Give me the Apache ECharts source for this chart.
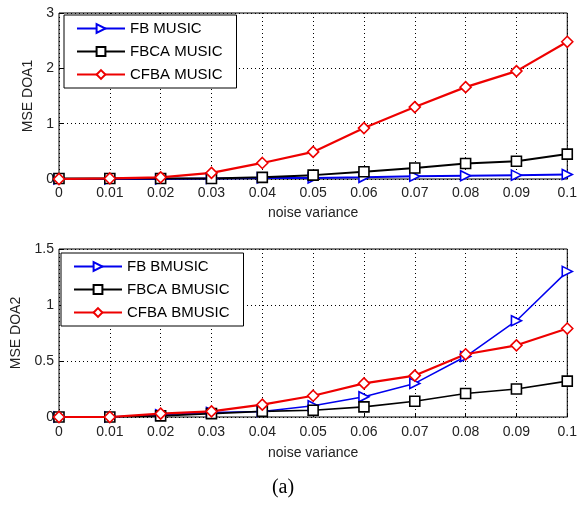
<!DOCTYPE html>
<html><head><meta charset="utf-8">
<script src="https://cdn.jsdelivr.net/npm/echarts@6/dist/echarts.min.js"></script>
<style>html,body{margin:0;padding:0;background:#fff}#c{width:580px;height:506px}</style>
</head><body><div id="c"></div>
<script>
const noiseVariance = [0, 0.01, 0.02, 0.03, 0.04, 0.05, 0.06, 0.07, 0.08, 0.09, 0.1];
const xTicks = ['0','0.01','0.02','0.03','0.04','0.05','0.06','0.07','0.08','0.09','0.1'];
// Top panel (DOA1)
const fbMusic   = [0, 0, 0, 0.01, 0.02, 0.02, 0.03, 0.05, 0.06, 0.07, 0.08];
const fbcaMusic = [0.01, 0.01, 0.01, 0.01, 0.03, 0.07, 0.13, 0.2, 0.28, 0.32, 0.45];
const cfbaMusic = [0, 0.01, 0.03, 0.11, 0.29, 0.49, 0.92, 1.3, 1.66, 1.95, 2.48];
// Bottom panel (DOA2)
const fbBmusic   = [0, 0, 0.02, 0.04, 0.05, 0.1, 0.18, 0.3, 0.54, 0.86, 1.3];
const fbcaBmusic = [0, 0, 0.01, 0.03, 0.05, 0.06, 0.09, 0.14, 0.21, 0.25, 0.32];
const cfbaBmusic = [0, 0, 0.03, 0.05, 0.11, 0.19, 0.3, 0.37, 0.56, 0.64, 0.79];
const y1Ticks = [0, 1, 2, 3];
const y2Ticks = [0, 0.5, 1, 1.5];

const pairs = a => noiseVariance.map((x, i) => [x, a[i]]);
const triRight = 'path://M0,0 L10,5 L0,10 Z';
const font = 'Arial, "Liberation Sans", sans-serif';

function mkSeries(name, data, color, symbol, size, lw, gi) {
  return {
    name, type: 'line', data: pairs(data), xAxisIndex: gi, yAxisIndex: gi,
    symbol, symbolSize: size, showSymbol: true,
    lineStyle: { color, width: lw },
    itemStyle: { color: '#fff', borderColor: color, borderWidth: 1.6 },
    emphasis: { disabled: true }, animation: false, z: 3
  };
}
function xAx(gi, margin, nameGap) {
  return {
    type: 'value', gridIndex: gi, min: 0, max: 0.1, interval: 0.01,
    name: 'noise variance', nameLocation: 'middle', nameGap,
    nameTextStyle: { color: '#222', fontSize: 14, fontFamily: font },
    axisLine: { show: false }, axisTick: { show: true, inside: true, length: 4, lineStyle: { color: '#000' } },
    axisLabel: { color: '#222', fontSize: 14, fontFamily: font, margin, formatter: v => xTicks[Math.round(v * 100)] },
    splitLine: { show: true, lineStyle: { color: '#000', type: [1, 3], width: 1 } }
  };
}
function yAx(gi, max, interval, nm, ticks) {
  return {
    type: 'value', gridIndex: gi, min: 0, max, interval,
    name: nm, nameLocation: 'middle', nameGap: 22, nameRotate: 90,
    nameTextStyle: { color: '#222', fontSize: 14, fontFamily: font },
    axisLine: { show: false }, axisTick: { show: true, inside: true, length: 4, lineStyle: { color: '#000' } },
    axisLabel: { color: '#222', fontSize: 14, fontFamily: font, margin: 5,
      formatter: v => { const t = ticks.find(k => Math.abs(k - v) < 1e-9); return t === undefined ? '' : String(t); } },
    splitLine: { show: true, lineStyle: { color: '#000', type: [1, 3], width: 1 } }
  };
}
const legendBase = {
  orient: 'vertical', backgroundColor: '#fff', borderColor: '#000', borderWidth: 1,
  padding: [5, 14, 5, 12], itemGap: 6, itemWidth: 48, itemHeight: 11,
  textStyle: { color: '#000', fontSize: 15, fontFamily: font, lineHeight: 17 }
};

const chart = echarts.init(document.getElementById('c'), null, { renderer: 'canvas' });
chart.setOption({
  animation: false,
  grid: [
    { left: 59, right: 8, top: 13, height: 166, show: true, borderColor: '#000', borderWidth: 1, backgroundColor: 'transparent' },
    { left: 59, right: 8, top: 249, height: 168, show: true, borderColor: '#000', borderWidth: 1, backgroundColor: 'transparent' }
  ],
  xAxis: [xAx(0, 7, 27), xAx(1, 8, 29)],
  yAxis: [yAx(0, 3, 1, 'MSE DOA1', y1Ticks), yAx(1, 1.5, 0.5, 'MSE DOA2', y2Ticks)],
  legend: [
    Object.assign({}, legendBase, { left: 64, top: 15, data: ['FB MUSIC', 'FBCA MUSIC', 'CFBA MUSIC'] }),
    Object.assign({}, legendBase, { left: 61, top: 253, data: ['FB BMUSIC', 'FBCA BMUSIC', 'CFBA BMUSIC'] })
  ],
  series: [
    mkSeries('FB MUSIC', fbMusic, '#0000ee', triRight, 10, 2, 0),
    mkSeries('FBCA MUSIC', fbcaMusic, '#000', 'rect', 10, 2, 0),
    mkSeries('CFBA MUSIC', cfbaMusic, '#ee0000', 'diamond', 11, 2.2, 0),
    mkSeries('FB BMUSIC', fbBmusic, '#0000ee', triRight, 10, 1.5, 1),
    mkSeries('FBCA BMUSIC', fbcaBmusic, '#000', 'rect', 10, 1.6, 1),
    mkSeries('CFBA BMUSIC', cfbaBmusic, '#ee0000', 'diamond', 11, 2.2, 1)
  ],
  graphic: [{ type: 'text', x: 283, y: 488, style: { text: '(a)', font: '20px "Liberation Serif", "Times New Roman", serif', fill: '#000', textAlign: 'center', textVerticalAlign: 'middle' } }]
});
</script></body></html>
